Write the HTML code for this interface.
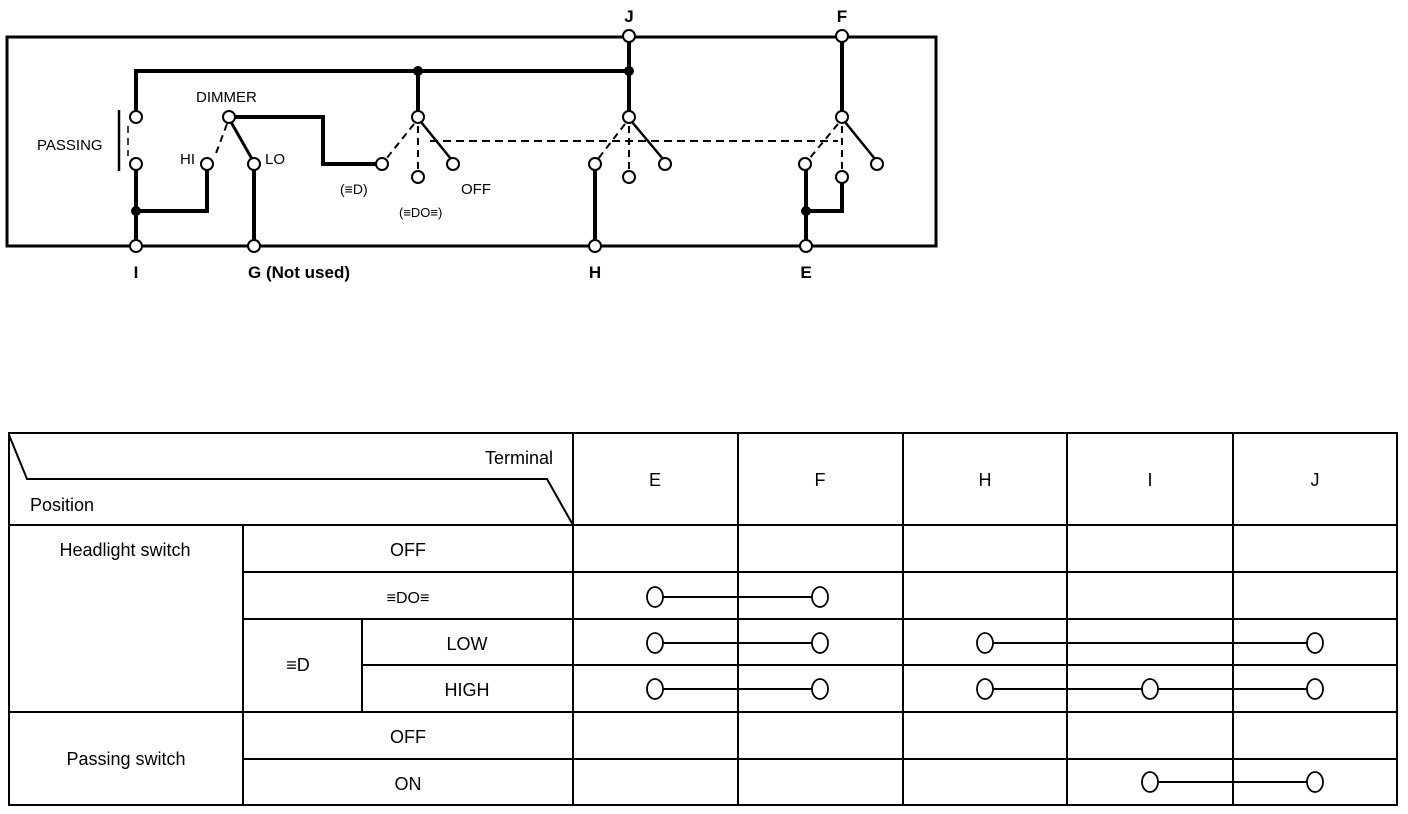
<!DOCTYPE html>
<html><head><meta charset="utf-8"><style>
html,body{margin:0;padding:0;background:#fff;}
svg{display:block;font-family:"Liberation Sans",Arial,sans-serif;}
</style></head><body>
<svg width="1408" height="814" viewBox="0 0 1408 814" xmlns="http://www.w3.org/2000/svg">
<g stroke="#000" fill="none">
<!-- box -->
<rect x="7" y="37" width="929" height="209" stroke-width="3"/>
<!-- top wire -->
<polyline points="136,111 136,71 629,71" stroke-width="4"/>
<line x1="418" y1="71" x2="418" y2="111" stroke-width="4"/>
<line x1="629" y1="42" x2="629" y2="111" stroke-width="4"/>
<line x1="842" y1="42" x2="842" y2="111" stroke-width="4"/>
<!-- passing -->
<line x1="119" y1="110" x2="119" y2="171" stroke-width="2.5"/>
<line x1="128" y1="126" x2="128" y2="156" stroke-width="1.5" stroke-dasharray="7,5"/>
<polyline points="136,170 136,240" stroke-width="4"/>
<polyline points="136,211 207,211 207,170" stroke-width="4"/>
<!-- dimmer -->
<polyline points="235,117 323,117 323,164 376,164" stroke-width="4"/>
<line x1="231" y1="122" x2="252" y2="159" stroke-width="3"/>
<line x1="227" y1="124" x2="215" y2="156" stroke-width="2" stroke-dasharray="7,5"/>
<line x1="254" y1="170" x2="254" y2="240" stroke-width="4"/>
<!-- headlight switch -->
<line x1="421" y1="122" x2="451" y2="159" stroke-width="2.5"/>
<line x1="414" y1="124" x2="386" y2="159" stroke-width="2" stroke-dasharray="7,5"/>
<line x1="418" y1="126" x2="418" y2="170" stroke-width="2" stroke-dasharray="7,5"/>
<line x1="430" y1="141" x2="838" y2="141" stroke-width="2" stroke-dasharray="8,5"/>
<line x1="632" y1="122" x2="663" y2="159" stroke-width="2.5"/>
<line x1="625" y1="124" x2="598" y2="159" stroke-width="2" stroke-dasharray="7,5"/>
<line x1="629" y1="126" x2="629" y2="170" stroke-width="2" stroke-dasharray="7,5"/>
<line x1="595" y1="170" x2="595" y2="240" stroke-width="4"/>
<line x1="845" y1="122" x2="875" y2="159" stroke-width="2.5"/>
<line x1="838" y1="124" x2="809" y2="159" stroke-width="2" stroke-dasharray="7,5"/>
<line x1="842" y1="126" x2="842" y2="170" stroke-width="2" stroke-dasharray="7,5"/>
<line x1="806" y1="170" x2="806" y2="240" stroke-width="4"/>
<polyline points="806,211 842,211 842,183" stroke-width="4"/>
</g>
<g fill="#000">
<circle cx="418" cy="71" r="5"/><circle cx="629" cy="71" r="5"/>
<circle cx="136" cy="211" r="5"/><circle cx="806" cy="211" r="5"/>
</g>
<g fill="#fff" stroke="#000" stroke-width="2">
<circle cx="629" cy="36" r="6"/><circle cx="842" cy="36" r="6"/>
<circle cx="136" cy="117" r="6"/><circle cx="136" cy="164" r="6"/>
<circle cx="229" cy="117" r="6"/><circle cx="207" cy="164" r="6"/><circle cx="254" cy="164" r="6"/>
<circle cx="418" cy="117" r="6"/><circle cx="382" cy="164" r="6"/><circle cx="418" cy="177" r="6"/><circle cx="453" cy="164" r="6"/>
<circle cx="629" cy="117" r="6"/><circle cx="595" cy="164" r="6"/><circle cx="629" cy="177" r="6"/><circle cx="665" cy="164" r="6"/>
<circle cx="842" cy="117" r="6"/><circle cx="805" cy="164" r="6"/><circle cx="842" cy="177" r="6"/><circle cx="877" cy="164" r="6"/>
<circle cx="136" cy="246" r="6"/><circle cx="254" cy="246" r="6"/><circle cx="595" cy="246" r="6"/><circle cx="806" cy="246" r="6"/>
</g>
<g fill="#000" font-size="16">
<text x="629" y="22" text-anchor="middle" font-weight="bold" font-size="17">J</text>
<text x="842" y="22" text-anchor="middle" font-weight="bold" font-size="17">F</text>
<text x="136" y="278" text-anchor="middle" font-weight="bold" font-size="17">I</text>
<text x="248" y="278" font-weight="bold" font-size="17">G (Not used)</text>
<text x="595" y="278" text-anchor="middle" font-weight="bold" font-size="17">H</text>
<text x="806" y="278" text-anchor="middle" font-weight="bold" font-size="17">E</text>
<text x="196" y="102" font-size="15">DIMMER</text>
<text x="37" y="150" font-size="15">PASSING</text>
<text x="180" y="164" font-size="15">HI</text>
<text x="265" y="164" font-size="15">LO</text>
<text x="340" y="194" font-size="14">(≡D)</text>
<text x="399" y="217" font-size="13">(≡DO≡)</text>
<text x="461" y="194" font-size="15">OFF</text>
</g>
<!-- table -->
<g stroke="#000" stroke-width="2" fill="none">
<rect x="9" y="433" width="1388" height="372"/>
<polyline points="9,435 27,479 547,479 573,525"/>
<line x1="9" y1="525" x2="1397" y2="525"/>
<line x1="573" y1="433" x2="573" y2="805"/>
<line x1="738" y1="433" x2="738" y2="805"/>
<line x1="903" y1="433" x2="903" y2="805"/>
<line x1="1067" y1="433" x2="1067" y2="805"/>
<line x1="1233" y1="433" x2="1233" y2="805"/>
<line x1="243" y1="525" x2="243" y2="805"/>
<line x1="362" y1="619" x2="362" y2="712"/>
<line x1="243" y1="572" x2="1397" y2="572"/>
<line x1="243" y1="619" x2="1397" y2="619"/>
<line x1="362" y1="665" x2="1397" y2="665"/>
<line x1="9" y1="712" x2="1397" y2="712"/>
<line x1="243" y1="759" x2="1397" y2="759"/>
<!-- connections -->
<line x1="663" y1="597" x2="812" y2="597"/>
<line x1="663" y1="643" x2="812" y2="643"/>
<line x1="663" y1="689" x2="812" y2="689"/>
<line x1="993" y1="643" x2="1307" y2="643"/>
<line x1="993" y1="689" x2="1307" y2="689"/>
<line x1="1158" y1="782" x2="1307" y2="782"/>
</g>
<g fill="#fff" stroke="#000" stroke-width="1.8">
<ellipse cx="655" cy="597" rx="8" ry="10"/><ellipse cx="820" cy="597" rx="8" ry="10"/>
<ellipse cx="655" cy="643" rx="8" ry="10"/><ellipse cx="820" cy="643" rx="8" ry="10"/>
<ellipse cx="655" cy="689" rx="8" ry="10"/><ellipse cx="820" cy="689" rx="8" ry="10"/>
<ellipse cx="985" cy="643" rx="8" ry="10"/><ellipse cx="1315" cy="643" rx="8" ry="10"/>
<ellipse cx="985" cy="689" rx="8" ry="10"/><ellipse cx="1150" cy="689" rx="8" ry="10"/><ellipse cx="1315" cy="689" rx="8" ry="10"/>
<ellipse cx="1150" cy="782" rx="8" ry="10"/><ellipse cx="1315" cy="782" rx="8" ry="10"/>
</g>
<g fill="#000" font-size="18" text-anchor="middle">
<text x="553" y="464" text-anchor="end">Terminal</text>
<text x="30" y="511" text-anchor="start">Position</text>
<text x="655" y="486">E</text><text x="820" y="486">F</text><text x="985" y="486">H</text><text x="1150" y="486">I</text><text x="1315" y="486">J</text>
<text x="125" y="556">Headlight switch</text>
<text x="408" y="556">OFF</text>
<text x="408" y="603" font-size="16">≡DO≡</text>
<text x="298" y="671" font-size="18">≡D</text>
<text x="467" y="650">LOW</text>
<text x="467" y="696">HIGH</text>
<text x="126" y="765">Passing switch</text>
<text x="408" y="743">OFF</text>
<text x="408" y="790">ON</text>
</g>
</svg>
</body></html>
